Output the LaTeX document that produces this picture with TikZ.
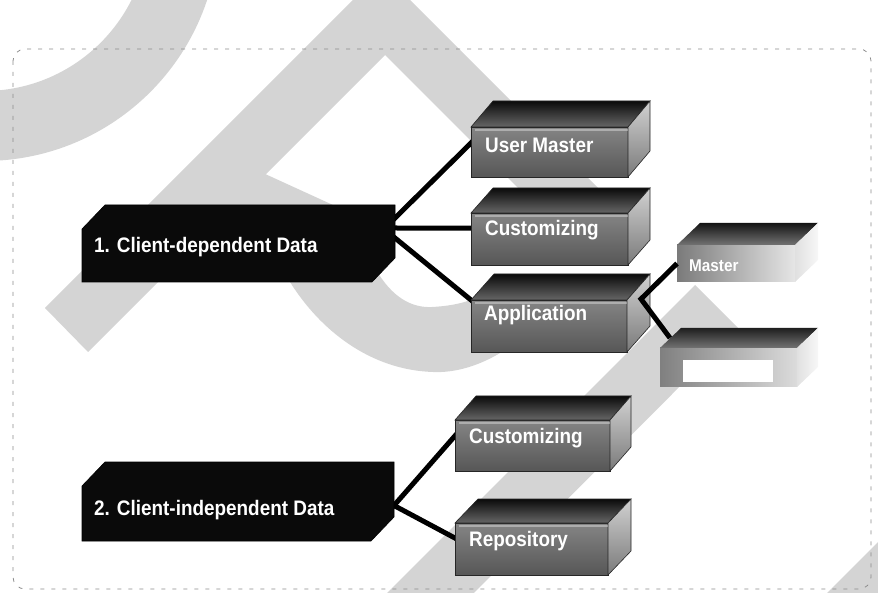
\documentclass[tikz,border=0pt]{standalone}
\usepackage{fontspec}
\setmainfont{Liberation Sans}
\newfontfamily\boxfont{Liberation Sans}[FakeStretch=0.9]
\usetikzlibrary{calc,fit}
\definecolor{wm}{RGB}{212,212,212}
\pgfdeclarelayer{background}
\pgfdeclarelayer{conn}
\pgfdeclarelayer{front}
\pgfsetlayers{background,conn,main,front}

\tikzset{
  helper/.style={inner sep=0pt, outer sep=0pt, draw=none},
  conn/.style={line width=5pt, black, line join=miter},
  darkbox/.style={fill=black!96, draw=black, line width=0.6pt},
  lbl/.style={font=\boxfont\bfseries\fontsize{21}{24}\selectfont, text=white, anchor=base west, inner sep=0pt},
  smalllbl/.style={lbl, font=\boxfont\bfseries\fontsize{17}{20}\selectfont},
  frame/.style={draw=black!45, dash pattern=on 4pt off 7pt, line width=0.8pt, rounded corners=12pt},
  gtop/.style={top color=black!96, bottom color=black!60, draw=black!85, line width=0.6pt},
  gfront/.style={top color=black!48, bottom color=black!66, draw=black!85, line width=0.6pt},
  gside/.style={top color=black!18, bottom color=black!52, draw=black!85, line width=0.6pt},
  mtop/.style={top color=black!92, bottom color=black!55},
  mfront/.style={left color=black!52, right color=black!10},
  mside/.style={left color=black!12, right color=black!3},
  btop/.style={top color=black!88, bottom color=black!55},
  bfront/.style={left color=black!50, right color=black!14},
  bside/.style={left color=black!12, right color=black!3}
}

% grey cuboid: name, front x1,y1,x2,y2, depth dx, dy (up), style prefix
\newcommand{\cubo}[8]{%
  \coordinate (#1-a) at (#2,#3);
  \coordinate (#1-c) at (#4,#5);
  \coordinate (#1-b) at ({#2+#6},{#3-#7});
  \coordinate (#1-d) at ({#4+#6},{#3-#7});
  \coordinate (#1-f) at (#4,#3);
  \coordinate (#1-e) at ({#4+#6},{#5-#7});
  \path[#8front] (#1-a) rectangle (#1-c);
  \path[#8top] (#1-a) -- (#1-b) -- (#1-d) -- (#1-f) -- cycle;
  \path[#8side] (#1-f) -- (#1-d) -- (#1-e) -- (#1-c) -- cycle;
  \node[helper, fit=(#1-a)(#1-c)] (#1) {};
}
% black cuboid silhouette
\newcommand{\darkcubo}[7]{%
  \path[darkbox] (#2,#3) -- ({#2+#6},{#3-#7}) -- ({#4+#6},{#3-#7}) -- ({#4+#6},{#5-#7}) -- (#4,#5) -- (#2,#5) -- cycle;
  \coordinate (#1-p) at (#2,{#3-#7});
  \coordinate (#1-q) at ({#4+#6},#5);
  \node[helper, fit=(#1-p)(#1-q)] (#1) {};
}

\begin{document}
\begin{tikzpicture}[x=1pt,y=-1pt]
\useasboundingbox (0,0) rectangle (878,593);

% watermark and frame
\begin{pgfonlayer}{background}
\begin{scope}
  \clip (0,0) rectangle (878,593);
  \fill[wm, even odd rule] (-16,-74) circle (235pt) (-16,-74) circle (165pt);
  \fill[wm] (363,-10) -- (45,308) -- (88,352) -- (385,55) -- (585,255) -- (625,215) -- (400,-10) -- cycle;
  \fill[wm] (263,173) -- (333,205) -- (375,268) .. controls (392,298) and (412,308) .. (432,307)
     .. controls (450,306) and (465,303) .. (475,298) -- (560,285) -- (585,330) -- (505,350)
     .. controls (480,366) and (455,373) .. (433,372) .. controls (370,370) and (320,330) .. (290,282)
     -- (200,240) -- cycle;
  \fill[wm] (695,285) -- (738,328) -- (464,603) -- (377,603) -- cycle;
  \fill[wm] (817,603) -- (888,532) -- (888,603) -- cycle;
\end{scope}
\draw[frame] (13,49) rectangle (871,589);
\end{pgfonlayer}

% boxes
\darkcubo{d1}{82}{229}{372}{282}{23}{24}
\darkcubo{d2}{82}{486}{371}{541}{23}{24}
\cubo{um}{471}{127}{628}{177}{22}{26}{g}
\cubo{cu}{471}{213}{628}{265}{22}{25}{g}
\cubo{ap}{471}{300}{627}{352}{23}{26}{g}
\cubo{ms}{677}{245}{795}{282}{23}{22}{m}
\cubo{bl}{660}{348}{797}{387}{21}{20}{b}
\cubo{cv}{455}{420}{610}{471}{21}{24}{g}
\cubo{rp}{455}{523}{608}{575}{23}{24}{g}
\fill[white] (683,360) rectangle (773,382);

% highlights on grey boxes
\foreach \n in {um,cu,ap,cv,rp}{
  \draw[white, opacity=0.35, line width=1.2pt] ($(\n.north west)+(4,3)$) -- ($(\n.north east)+(0,3)$);
}

% labels
\node[lbl] (t1) at (94,253) {1. Client-dependent Data};
\node[lbl] (t2) at (94,515) {2. Client-independent Data};
\node[lbl] (tum) at (485,153) {User Master};
\node[lbl] (tcu) at (485,236) {Customizing};
\node[lbl] (tap) at (484,321) {Application};
\node[smalllbl] (tms) at (689,272) {Master};
\node[lbl] (tcv) at (469,443) {Customizing};
\node[lbl] (trp) at (469,546) {Repository};

% connectors
\begin{pgfonlayer}{conn}
\draw[conn, shorten <=-8pt, shorten >=-8pt] ($(d1.north east)+(0,13)$) -- ($(um.north west)!0.32!(um.south west)$);
\draw[conn, shorten <=-8pt, shorten >=-8pt] ($(d1.north east)+(0,23)$) -- ($(cu.north west)!0.29!(cu.south west)$);
\draw[conn, shorten <=-8pt, shorten >=-6pt] ($(d1.north east)+(0,33)$) -- (ap.north west);
\draw[conn, shorten <=-8pt, shorten >=-8pt] ($(d2.east)+(0,4)$) -- ($(cv.north west)!0.31!(cv.south west)$);
\draw[conn, shorten <=-8pt, shorten >=-8pt] ($(d2.east)+(0,4)$) -- ($(rp.north west)!0.29!(rp.south west)$);
\end{pgfonlayer}
\begin{pgfonlayer}{front}
\coordinate (ap-v) at ($(ap.north east)+(14,-1)$);
\draw[conn] (ms.west) -- (ap-v) -- ($(bl.north west)+(10,-10)$);
\end{pgfonlayer}
\end{tikzpicture}
\end{document}
